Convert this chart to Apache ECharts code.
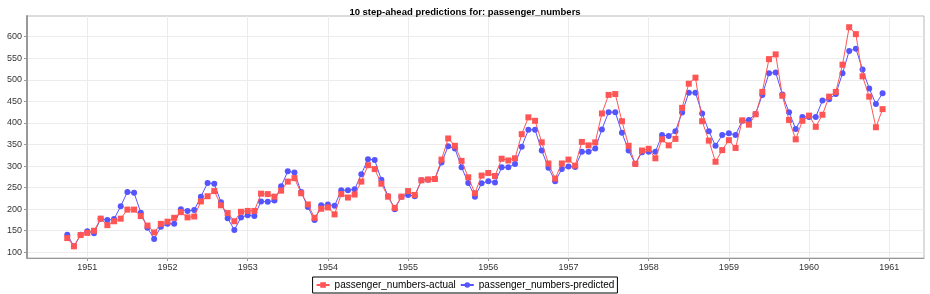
<!DOCTYPE html>
<html>
<head>
<meta charset="utf-8">
<script src="https://cdn.jsdelivr.net/npm/echarts@6.0.0/dist/echarts.min.js"></script>
<style>
	html, body { margin: 0; padding: 0; background: #fff; }
	#main { width: 930px; height: 294px; }
</style>
</head>
<body>
<div id="main"></div>
<script>
// first month of both series: October 1950
var startYear = 1950;
var startMonth = 10;

var actual = [
	133, 114, 140,
	145, 150, 178, 163, 172, 178, 199, 199, 184, 162, 146, 166,
	171, 180, 193, 181, 183, 218, 230, 242, 209, 191, 172, 194,
	196, 196, 236, 235, 229, 243, 264, 272, 237, 211, 180, 201,
	204, 188, 235, 227, 234, 264, 302, 293, 259, 229, 203, 229,
	242, 233, 267, 269, 270, 315, 364, 347, 312, 274, 237, 278,
	284, 277, 317, 313, 318, 374, 413, 405, 355, 306, 271, 306,
	315, 301, 356, 348, 355, 422, 465, 467, 404, 347, 305, 336,
	340, 318, 362, 348, 363, 435, 491, 505, 404, 359, 310, 337,
	360, 342, 406, 396, 420, 472, 548, 559, 463, 407, 362, 405,
	417, 391, 419, 461, 472, 535, 622, 606, 508, 461, 390, 432
];

var predicted = [
	141, 114, 141,
	149, 144, 178, 175, 177, 207, 240, 238, 192, 157, 131, 159,
	166, 166, 200, 196, 198, 229, 261, 259, 216, 179, 152, 181,
	186, 184, 218, 217, 220, 253, 288, 285, 240, 205, 175, 209,
	211, 208, 244, 244, 246, 281, 316, 314, 268, 230, 200, 229,
	233, 230, 267, 268, 270, 308, 346, 341, 297, 261, 229, 260,
	265, 262, 297, 297, 305, 345, 384, 384, 336, 296, 265, 293,
	299, 298, 333, 333, 341, 385, 425, 425, 377, 336, 305, 332,
	333, 333, 372, 370, 381, 424, 470, 470, 422, 381, 347, 372,
	376, 372, 405, 407, 421, 465, 515, 517, 466, 425, 386, 414,
	414, 414, 452, 455, 467, 515, 567, 572, 524, 480, 444, 469
];

var yearTicks = [1951, 1952, 1953, 1954, 1955, 1956, 1957, 1958, 1959, 1960, 1961];
var valueTicks = [100, 150, 200, 250, 300, 350, 400, 450, 500, 550, 600];

var titleText = '10 step-ahead predictions for: passenger_numbers';
var actualName = 'passenger_numbers-actual';
var predictedName = 'passenger_numbers-predicted';

// month -> fractional year on the x axis
function toPairs(values){
	var out = [];
	for(var i = 0; i < values.length; i++){
		var m = startMonth - 1 + i;
		out.push([startYear + m / 12, values[i]]);
	}
	return out;
}

function initEcharts(){
	var myChart = echarts.init(document.getElementById('main'), null, {renderer: 'canvas'});
	var font = 'Liberation Sans';

	var option = {
		animation: false,
		backgroundColor: '#fff',
		title: {
			text: titleText,
			left: 'center',
			top: 2,
			textStyle: {fontFamily: font, fontSize: 9.5, fontWeight: 'bold', color: '#000'}
		},
		legend: {
			bottom: 1,
			left: 'center',
			itemWidth: 13,
			itemHeight: 7,
			itemGap: 4,
			padding: [3, 3, 3, 3],
			borderColor: '#000',
			borderWidth: 1,
			borderRadius: 0,
			textStyle: {fontFamily: font, fontSize: 10, color: '#000'},
			data: [actualName, predictedName]
		},
		grid: {
			left: 27,
			right: 6,
			top: 16,
			bottom: 36,
			show: true,
			borderColor: '#b8b8b8',
			borderWidth: 1
		},
		xAxis: {
			type: 'value',
			min: 1950.248,
			max: 1961.433,
			axisLine: {show: true, onZero: false, lineStyle: {color: '#999', width: 1}},
			axisTick: {show: true, length: 3, customValues: yearTicks, lineStyle: {color: '#999'}},
			axisLabel: {
				customValues: yearTicks,
				fontFamily: font, fontSize: 9, color: '#333', margin: 5,
				formatter: function(v){ return String(Math.round(v)); }
			},
			splitLine: {show: true, lineStyle: {color: '#ececec', width: 1}}
		},
		yAxis: {
			type: 'value',
			min: 86.8,
			max: 648,
			axisLine: {show: true, lineStyle: {color: '#999', width: 2}},
			axisTick: {show: true, length: 3, customValues: valueTicks, lineStyle: {color: '#999'}},
			axisLabel: {
				customValues: valueTicks,
				fontFamily: font, fontSize: 9, color: '#333', margin: 5
			},
			splitLine: {show: true, lineStyle: {color: '#ececec', width: 1}}
		},
		series: [
			{
				name: predictedName,
				type: 'line',
				data: toPairs(predicted),
				symbol: 'circle',
				symbolSize: 6,
				z: 2,
				itemStyle: {color: '#5555ff'},
				lineStyle: {color: '#5555ff', width: 1}
			},
			{
				name: actualName,
				type: 'line',
				data: toPairs(actual),
				symbol: 'rect',
				symbolSize: 6,
				z: 3,
				itemStyle: {color: '#ff5555'},
				lineStyle: {color: '#ff5555', width: 1}
			}
		]
	};

	myChart.setOption(option);
}

initEcharts();
</script>
</body>
</html>
